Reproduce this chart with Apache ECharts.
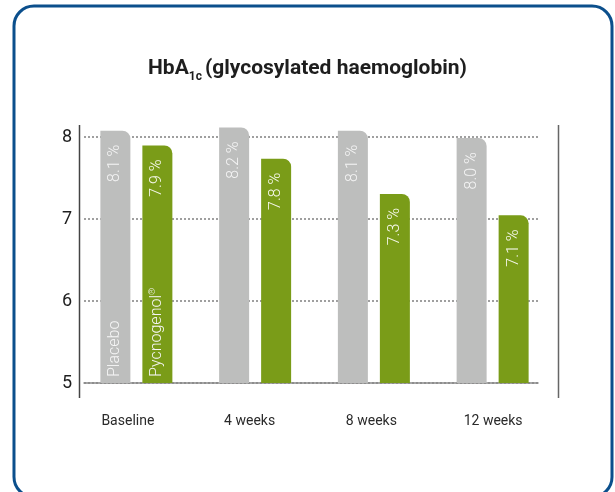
<!DOCTYPE html>
<html>
<head>
<meta charset="utf-8">
<script src="https://cdn.jsdelivr.net/npm/echarts@6/dist/echarts.min.js"></script>
<style>
	html, body { margin: 0; padding: 0; background: #fff; }
	#main { width: 615px; height: 492px; }
</style>
</head>
<body>
<div id="main"></div>
<script>
var categories = ["Baseline", "4 weeks", "8 weeks", "12 weeks"];
var seriesNames = ["Placebo", "Pycnogenol"];
var placebo = [8.07, 8.11, 8.07, 7.98];
var pycnogenol = [7.89, 7.73, 7.30, 7.04];
var placeboText = ["8.1 %", "8.2 %", "8.1 %", "8.0 %"];
var pycnogenolText = ["7.9 %", "7.8 %", "7.3 %", "7.1 %"];
var yTicks = [5, 6, 7, 8];

var GREY = "#bdbebd";
var GREEN = "#7a9c18";
var LABEL_FONT = "Roboto, 'Liberation Sans', sans-serif";

// 只在第一个分组显示名称
function firstOnly(arr) {
	var out = [];
	for(var i = 0; i < arr.length; i++) {
		out.push(i == 0 ? arr[i] : "-");
	}
	return out;
}

function valueLabel(texts, color) {
	return {
		show: true,
		position: "insideTop",
		rotate: 90,
		align: "right",
		verticalAlign: "middle",
		distance: 14,
		color: color,
		fontFamily: LABEL_FONT,
		fontWeight: 300,
		fontSize: 16,
		formatter: function(p) {
			return texts[p.dataIndex];
		}
	};
}

function nameLabel(rich) {
	return {
		show: true,
		position: "insideBottom",
		rotate: 90,
		align: "left",
		verticalAlign: "middle",
		distance: 6,
		color: "#f6f6f6",
		fontFamily: LABEL_FONT,
		fontWeight: 300,
		fontSize: 16,
		formatter: rich,
		rich: {
			n: { fontFamily: LABEL_FONT, fontWeight: 300, fontSize: 16, color: "#f6f6f6", lineHeight: 18, verticalAlign: "middle" },
			r: { fontFamily: LABEL_FONT, fontSize: 9, color: "#f6f6f6", lineHeight: 18, verticalAlign: "top" }
		}
	};
}

var myChart = echarts.init(document.getElementById("main"));
var option = {
	animation: false,
	backgroundColor: "#fff",
	title: {
		left: 148,
		top: 55,
		padding: 0,
		text: "{b|HbA}{s|1c}{b|(glycosylated haemoglobin)}",
		textStyle: {
			rich: {
				b: { fontFamily: "Roboto, sans-serif", fontWeight: "bold", fontSize: 21, color: "#1e1e1e", lineHeight: 28, verticalAlign: "middle" },
				s: { fontFamily: "Roboto, sans-serif", fontWeight: "bold", fontSize: 12, color: "#1e1e1e", lineHeight: 28, verticalAlign: "bottom", padding: [0, 3, 0, 0] }
			}
		}
	},
	graphic: [{
		type: "rect",
		shape: { x: 14, y: 6, width: 598, height: 491, r: 20 },
		style: { fill: "none", stroke: "#0b4f8c", lineWidth: 3 },
		silent: true
	}, {
		type: "line",
		shape: { x1: 79.5, y1: 125, x2: 79.5, y2: 398 },
		style: { stroke: "#444", lineWidth: 1.5 },
		silent: true
	}, {
		type: "line",
		shape: { x1: 558.5, y1: 125, x2: 558.5, y2: 398 },
		style: { stroke: "#666", lineWidth: 1.5 },
		silent: true
	}],
	grid: [
		{ left: 77, width: 475, top: 120, bottom: 109 }, // 柱子
		{ left: 84, width: 454, top: 137, bottom: 109 }, // 网格线
		{ left: 67, width: 487, top: 120, bottom: 109 } // 分类标签
	],
	xAxis: [{
		gridIndex: 0,
		type: "category",
		data: categories,
		show: false
	}, {
		gridIndex: 1,
		type: "category",
		data: categories,
		axisLine: { show: true, onZero: false, lineStyle: { color: "#888", width: 1.5 } },
		axisTick: { show: false },
		axisLabel: { show: false }
	}, {
		gridIndex: 2,
		type: "category",
		data: categories,
		axisLine: { show: false },
		axisTick: { show: false },
		axisLabel: {
			show: true,
			interval: 0,
			margin: 31,
			color: "#2a2a2a",
			fontFamily: "Roboto, sans-serif",
			fontSize: 14
		}
	}, {
		gridIndex: 0,
		type: "category",
		data: categories,
		show: false
	}],
	yAxis: [{
		gridIndex: 0,
		type: "value",
		min: 5,
		max: 8.2,
		show: false
	}, {
		gridIndex: 1,
		type: "value",
		min: yTicks[0],
		max: yTicks[yTicks.length - 1],
		interval: 1,
		axisLine: { show: false },
		axisTick: { show: false },
		axisLabel: {
			show: true,
			margin: 12,
			color: "#1e1e1e",
			fontFamily: "Roboto, sans-serif",
			fontSize: 18
		},
		splitLine: {
			show: true,
			lineStyle: { color: "#808080", width: 1.5, type: [2, 2] }
		}
	}, {
		gridIndex: 2,
		type: "value",
		min: 5,
		max: 8.2,
		show: false
	}],
	series: [{
		name: seriesNames[0],
		type: "bar",
		xAxisIndex: 0,
		yAxisIndex: 0,
		barWidth: 30,
		barGap: "40%",
		itemStyle: { color: GREY, borderRadius: [0, 8, 0, 0] },
		label: valueLabel(placeboText, "#f4f4f4"),
		data: placebo
	}, {
		name: seriesNames[1],
		type: "bar",
		xAxisIndex: 0,
		yAxisIndex: 0,
		barWidth: 30,
		barGap: "40%",
		itemStyle: { color: GREEN, borderRadius: [0, 8, 0, 0] },
		label: valueLabel(pycnogenolText, "#f7f9ee"),
		data: pycnogenol
	}, {
		name: seriesNames[0] + "_name",
		type: "bar",
		xAxisIndex: 3,
		yAxisIndex: 0,
		barWidth: 30,
		barGap: "40%",
		z: 3,
		itemStyle: { color: "rgba(0,0,0,0)" },
		label: nameLabel("{n|" + seriesNames[0] + "}"),
		data: firstOnly(placebo)
	}, {
		name: seriesNames[1] + "_name",
		type: "bar",
		xAxisIndex: 3,
		yAxisIndex: 0,
		barWidth: 30,
		barGap: "40%",
		z: 3,
		itemStyle: { color: "rgba(0,0,0,0)" },
		label: nameLabel("{n|" + seriesNames[1] + "}{r|®}"),
		data: firstOnly(pycnogenol)
	}]
};
myChart.setOption(option);
</script>
</body>
</html>
